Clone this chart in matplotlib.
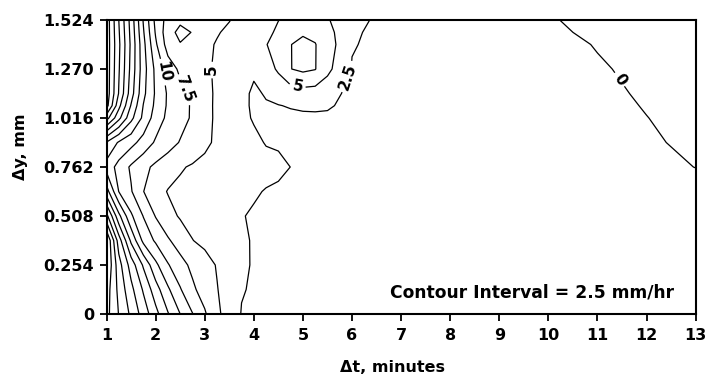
import numpy as np
import matplotlib
matplotlib.use("Agg")
import matplotlib.pyplot as plt

plt.rcParams['font.family'] = ['DejaVu Sans']
plt.rcParams['font.weight'] = 'bold'

# grid columns (delta t, minutes) and rows (delta y, mm)
dt = [1, 1.25, 1.5, 1.75, 2, 2.25, 2.5, 2.75, 3, 3.25, 3.5, 3.75, 4, 4.25, 4.5,
      4.75, 5, 5.25, 5.5, 5.75, 6, 6.5, 7, 8, 9, 10, 11, 12, 13]
dy = [0, 0.127, 0.254, 0.381, 0.508, 0.635, 0.762, 0.889, 1.016, 1.08, 1.143,
      1.270, 1.397, 1.46, 1.524]

# rate values (mm/hr), one list per delta-y row
z_000 = [30.8, 27.4, 24.5, 21.4, 18.3, 15.2, 12.5, 10.1, 7.8, 5.5, 3.9, 2.4, 2.2, 2.1, 2.0,
         1.95, 1.9, 1.85, 1.8, 1.75, 1.7, 1.6, 1.5, 1.35, 1.2, 1.0, 0.8, 0.6, 0.45]
z_127 = [31.2, 26.8, 23.2, 19.7, 16.1, 12.9, 10.2, 7.95, 6.44, 5.1, 3.92, 2.62, 2.3, 2.2, 2.1,
         2.05, 2.0, 1.95, 1.9, 1.85, 1.8, 1.7, 1.6, 1.45, 1.3, 1.1, 0.9, 0.7, 0.5]
z_254 = [32.55, 26.0, 21.4, 17.17, 13.1, 10.2, 8.36, 6.95, 5.9, 4.85, 3.88, 2.92, 2.3, 2.25, 2.2,
         2.15, 2.1, 2.05, 2.0, 1.95, 1.9, 1.8, 1.7, 1.55, 1.4, 1.2, 1.0, 0.8, 0.6]
z_381 = [32.7, 23.75, 17.0, 11.85, 9.63, 7.8, 6.38, 5.05, 4.46, 3.9, 3.35, 2.79, 2.35, 2.3, 2.25,
         2.2, 2.15, 2.1, 2.05, 2.0, 1.95, 1.85, 1.75, 1.6, 1.45, 1.25, 1.0, 0.75, 0.55]
z_508 = [25.8, 18.2, 12.9, 9.9, 7.37, 5.77, 4.77, 4.34, 3.9, 3.46, 3.02, 2.59, 2.3, 2.25, 2.2,
         2.15, 2.1, 2.05, 2.0, 1.95, 1.9, 1.85, 1.75, 1.6, 1.45, 1.25, 1.0, 0.7, 0.45]
z_635 = [18.6, 12.45, 10.2, 7.55, 5.96, 4.88, 4.57, 4.26, 3.95, 3.64, 3.33, 3.02, 2.7, 2.4, 2.3,
         2.25, 2.2, 2.15, 2.1, 2.05, 2.0, 1.95, 1.85, 1.65, 1.4, 1.15, 0.8, 0.5, 0.25]
z_762 = [14.0, 11.64, 9.64, 8.15, 7.0, 6.1, 5.2, 4.78, 4.5, 4.2, 3.92, 3.63, 3.35, 3.06, 2.78,
         2.49, 2.3, 2.25, 2.2, 2.15, 2.1, 2.0, 1.9, 1.6, 1.3, 1.0, 0.6, 0.2, -0.01]
z_889 = [17.3, 14.7, 13.3, 11.55, 9.67, 8.5, 7.35, 6.4, 5.4, 4.67, 4.07, 3.48, 2.88, 2.4, 2.35,
         2.3, 2.3, 2.3, 2.3, 2.25, 2.2, 2.1, 2.0, 1.7, 1.4, 1.0, 0.7, 0.12, -0.18]
z_1016 = [28.5, 23.2, 18.2, 14.4, 11.36, 9.44, 8.35, 7.2, 5.75, 4.6, 3.77, 2.93, 2.35, 2.25, 2.2,
          2.2, 2.2, 2.2, 2.2, 2.2, 2.2, 2.15, 2.05, 1.8, 1.5, 1.1, 0.45, 0.02, -0.4]
z_1080 = [33.5, 25.75, 19.8, 14.9, 11.96, 9.66, 8.45, 7.2, 5.75, 4.58, 3.7, 2.82, 2.3, 2.35, 2.45,
          2.6, 2.75, 2.8, 2.7, 2.35, 2.2, 2.15, 2.05, 1.78, 1.45, 1.02, 0.38, -0.07, -0.5]
z_1143 = [34.0, 27.35, 21.1, 15.6, 12.17, 9.7, 8.2, 6.88, 5.7, 4.64, 3.8, 3.0, 2.2, 2.65, 3.1,
          3.7, 4.0, 3.9, 3.5, 2.55, 2.2, 2.1, 2.0, 1.75, 1.4, 0.95, 0.3, -0.16, -0.6]
z_1270 = [34.0, 27.75, 21.75, 16.04, 11.9, 8.75, 7.04, 6.3, 5.5, 4.6, 3.7, 3.1, 2.8, 3.8, 5.4,
          7.45, 8.0, 7.6, 5.6, 4.0, 2.4, 2.2, 2.05, 1.75, 1.35, 0.7, 0.15, -0.35, -0.8]
z_1397 = [34.0, 28.0, 22.0, 15.75, 10.4, 6.4, 5.15, 5.3, 5.3, 4.9, 4.3, 3.8, 3.6, 4.9, 6.1,
          7.45, 8.1, 7.6, 6.1, 4.5, 2.6, 2.2, 2.05, 1.7, 1.2, 0.5, -0.08, -0.6, -1.0]
z_1460 = [34.0, 27.75, 21.75, 15.25, 9.75, 6.0, 4.3, 5.1, 5.25, 5.1, 4.75, 4.3, 3.95, 4.3, 5.5,
          6.6, 7.2, 6.9, 5.9, 4.3, 2.8, 2.1, 2.0, 1.6, 1.05, 0.3, -0.3, -0.8, -1.15]
z_1524 = [34.0, 27.5, 21.5, 14.8, 9.3, 6.6, 5.5, 5.3, 5.2, 5.1, 5.05, 4.6, 4.2, 4.4, 4.95,
          5.7, 6.3, 6.0, 5.15, 4.4, 3.4, 2.15, 1.95, 1.5, 0.9, 0.15, -0.5, -1.0, -1.3]

rows = [z_000, z_127, z_254, z_381, z_508, z_635, z_762, z_889, z_1016, z_1080,
        z_1143, z_1270, z_1397, z_1460, z_1524]

plain_levels = [12.5, 15, 17.5, 20, 22.5, 25, 27.5, 30, 32.5]
x_ticks = [1, 2, 3, 4, 5, 6, 7, 8, 9, 10, 11, 12, 13]
y_ticks = [0, 0.254, 0.508, 0.762, 1.016, 1.270, 1.524]
y_ticklabels = ["0", "0.254", "0.508", "0.762", "1.016", "1.270", "1.524"]

# labelled levels and where their labels sit (dt, dy)
label_levels = [10, 7.5, 5, 2.5, 0]
label_points = {
    10: [(2.15, 1.254)],
    7.5: [(2.56, 1.16)],
    5: [(3.17, 1.265), (4.88, 1.17)],
    2.5: [(5.92, 1.23)],
    0: [(11.42, 1.21)],
}

X, Y = np.meshgrid(np.array(dt), np.array(dy))
Z = np.array(rows)

fig = plt.figure(figsize=(7.06, 3.79), dpi=100)
ax = fig.add_axes([0.1509, 0.1715, 0.8345, 0.7757])

ax.contour(X, Y, Z, levels=plain_levels, colors='black', linewidths=0.9)
for lev in label_levels:
    cs = ax.contour(X, Y, Z, levels=[lev], colors='black', linewidths=0.9)
    ax.clabel(cs, manual=label_points[lev], inline=True,
              fmt='%g', fontsize=11, inline_spacing=3)

ax.set_xlim(1, 13)
ax.set_ylim(0, 1.524)
ax.set_xticks(x_ticks)
ax.set_xticklabels([str(v) for v in x_ticks])
ax.set_yticks(y_ticks)
ax.set_yticklabels(y_ticklabels)
ax.tick_params(direction='out', length=5, width=1.3, labelsize=11.5)
ax.tick_params(axis='x', pad=5)
ax.tick_params(axis='y', pad=4)
for s in ax.spines.values():
    s.set_linewidth(1.5)

ax.set_xlabel('\u0394t, minutes', fontsize=11.5, fontweight='bold')
ax.set_ylabel('\u0394y, mm', fontsize=11.5, fontweight='bold')
ax.xaxis.set_label_coords(0.486, -0.158)
ax.yaxis.set_label_coords(-0.133, 0.568)

ax.text(12.56, 0.109, 'Contour Interval = 2.5 mm/hr', ha='right', va='center',
        fontsize=12.3, fontweight='bold')

fig.savefig('out.png', dpi=100)
